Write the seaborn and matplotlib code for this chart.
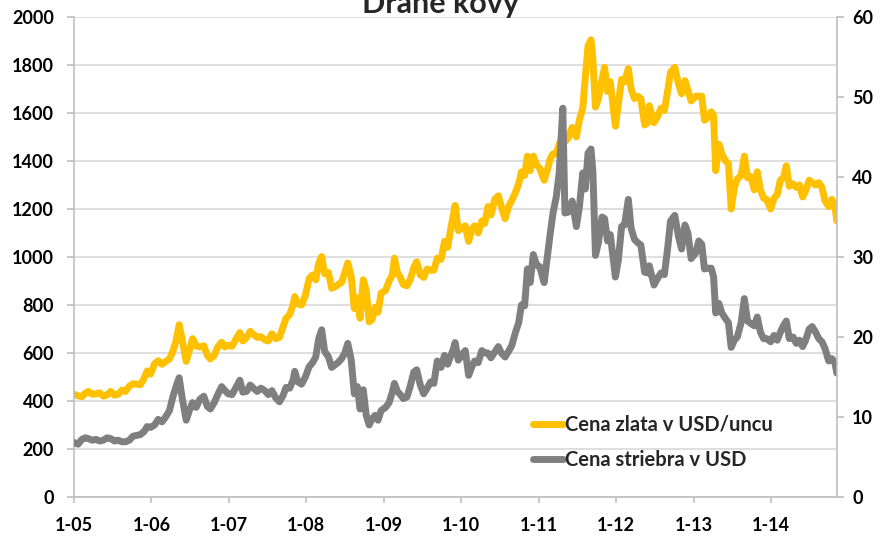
import matplotlib
matplotlib.use('Agg')
import matplotlib.pyplot as plt
import seaborn as sns
import pandas as pd

title = 'Drahé kovy'
gold_label = 'Cena zlata v USD/uncu'
silver_label = 'Cena striebra v USD'

dates = [
    '2005-01-03', '2005-01-20', '2005-02-07', '2005-02-24', '2005-03-10', '2005-03-28', '2005-04-14', '2005-05-02',
    '2005-05-19', '2005-06-06', '2005-06-23', '2005-07-11', '2005-07-28', '2005-08-15', '2005-09-01', '2005-09-19',
    '2005-10-06', '2005-10-24', '2005-11-10', '2005-11-28', '2005-12-12', '2005-12-28',
    '2006-01-16', '2006-02-02', '2006-02-20', '2006-03-09', '2006-03-27', '2006-04-13', '2006-04-27', '2006-05-12',
    '2006-05-26', '2006-06-14', '2006-06-29', '2006-07-14', '2006-07-31', '2006-08-17', '2006-09-05', '2006-09-22',
    '2006-10-06', '2006-10-24', '2006-11-10', '2006-11-28', '2006-12-14', '2006-12-29',
    '2007-01-16', '2007-02-02', '2007-02-22', '2007-03-08', '2007-03-26', '2007-04-12', '2007-04-27', '2007-05-15',
    '2007-06-01', '2007-06-20', '2007-07-06', '2007-07-23', '2007-08-10', '2007-08-28', '2007-09-14', '2007-09-28',
    '2007-10-15', '2007-10-31', '2007-11-08', '2007-11-22', '2007-12-10', '2007-12-28',
    '2008-01-15', '2008-01-31', '2008-02-15', '2008-02-29', '2008-03-14', '2008-03-28', '2008-04-15', '2008-04-30',
    '2008-05-15', '2008-05-30', '2008-06-16', '2008-07-01', '2008-07-15', '2008-07-31', '2008-08-15', '2008-08-29',
    '2008-09-11', '2008-09-26', '2008-10-10', '2008-10-24', '2008-11-07', '2008-11-21', '2008-12-05', '2008-12-19',
    '2009-01-09', '2009-01-26', '2009-02-10', '2009-02-20', '2009-03-06', '2009-03-20', '2009-04-03', '2009-04-20',
    '2009-05-05', '2009-05-22', '2009-06-05', '2009-06-22', '2009-07-08', '2009-07-24', '2009-08-10', '2009-08-25',
    '2009-09-10', '2009-09-28', '2009-10-14', '2009-10-29', '2009-11-12', '2009-11-26', '2009-12-03', '2009-12-18',
    '2010-01-05', '2010-01-20', '2010-02-05', '2010-02-19', '2010-03-05', '2010-03-22', '2010-04-08', '2010-04-22',
    '2010-05-07', '2010-05-21', '2010-06-08', '2010-06-25', '2010-07-09', '2010-07-27', '2010-08-12', '2010-08-27',
    '2010-09-14', '2010-09-29', '2010-10-12', '2010-10-27', '2010-11-09', '2010-11-22', '2010-12-07', '2010-12-22',
    '2011-01-06', '2011-01-27', '2011-02-10', '2011-02-25', '2011-03-10', '2011-03-25', '2011-04-08', '2011-04-25',
    '2011-05-05', '2011-05-20', '2011-06-08', '2011-06-28', '2011-07-12', '2011-07-28', '2011-08-09', '2011-08-22',
    '2011-09-05', '2011-09-14', '2011-09-26', '2011-10-10', '2011-10-27', '2011-11-08', '2011-11-22', '2011-12-05',
    '2011-12-29',
    '2012-01-12', '2012-01-27', '2012-02-10', '2012-02-28', '2012-03-12', '2012-03-28', '2012-04-12', '2012-04-27',
    '2012-05-15', '2012-05-31', '2012-06-06', '2012-06-28', '2012-07-12', '2012-07-31', '2012-08-16', '2012-08-31',
    '2012-09-14', '2012-10-04', '2012-10-22', '2012-11-05', '2012-11-21', '2012-12-05', '2012-12-20',
    '2013-01-11', '2013-01-25', '2013-02-08', '2013-02-21', '2013-03-08', '2013-03-25', '2013-04-05', '2013-04-15',
    '2013-04-30', '2013-05-14', '2013-05-31', '2013-06-14', '2013-06-27', '2013-07-12', '2013-07-26', '2013-08-13',
    '2013-08-28', '2013-09-12', '2013-09-27', '2013-10-14', '2013-10-28', '2013-11-12', '2013-11-27', '2013-12-12',
    '2013-12-30',
    '2014-01-15', '2014-01-30', '2014-02-14', '2014-02-28', '2014-03-14', '2014-03-28', '2014-04-15', '2014-04-30',
    '2014-05-15', '2014-05-30', '2014-06-13', '2014-06-30', '2014-07-14', '2014-07-30', '2014-08-14', '2014-08-29',
    '2014-09-12', '2014-09-30', '2014-10-15', '2014-10-29', '2014-11-07',
]

gold = [
    428, 422, 418, 433, 440, 428, 430, 434, 420, 425, 440, 424, 428, 445, 440, 462, 472, 470, 468, 495, 525, 512,
    555, 568, 553, 565, 575, 610, 650, 718, 655, 565, 610, 660, 630, 625, 630, 590, 575, 590, 625, 645, 625, 632,
    628, 655, 685, 650, 665, 690, 678, 665, 668, 655, 650, 680, 660, 665, 710, 745, 760, 800, 835, 805, 800, 840,
    910, 925, 905, 975, 1002, 930, 935, 870, 875, 885, 895, 935, 975, 920, 785, 830, 745, 905, 860, 730, 740, 790,
    770, 850,
    860, 900, 925, 995, 935, 915, 885, 880, 905, 955, 980, 925, 915, 950, 945, 945, 995, 990, 1065, 1040, 1115,
    1180, 1215, 1110,
    1120, 1130, 1065, 1115, 1130, 1100, 1150, 1140, 1210, 1175, 1240, 1255, 1210, 1160, 1210, 1235, 1270, 1305,
    1355, 1340, 1420, 1360, 1420, 1385,
    1370, 1320, 1360, 1410, 1430, 1430, 1470, 1510, 1480, 1495, 1540, 1500, 1570, 1620, 1750, 1880, 1905, 1820,
    1625, 1660, 1740, 1790, 1690, 1730, 1545,
    1640, 1740, 1730, 1785, 1700, 1660, 1670, 1660, 1550, 1560, 1630, 1560, 1580, 1620, 1610, 1690, 1770, 1790,
    1720, 1680, 1735, 1695, 1650,
    1670, 1670, 1670, 1570, 1580, 1605, 1590, 1360, 1470, 1430, 1400, 1390, 1200, 1290, 1325, 1340, 1420, 1330,
    1335, 1280, 1355, 1280, 1245, 1240, 1200,
    1245, 1260, 1320, 1330, 1380, 1295, 1305, 1290, 1300, 1250, 1275, 1320, 1310, 1300, 1310, 1290, 1235, 1210,
    1240, 1215, 1150,
]

silver = [
    6.8, 6.6, 7.2, 7.4, 7.3, 7.1, 7.2, 7.0, 7.1, 7.4, 7.3, 7.0, 7.1, 6.9, 6.9, 7.1, 7.6, 7.7, 7.8, 8.2, 8.8, 8.7,
    9.0, 9.7, 9.4, 10.0, 10.8, 12.6, 13.8, 14.9, 12.4, 9.6, 10.8, 11.8, 11.2, 12.2, 12.6, 11.3, 11.0, 11.8, 12.8,
    13.8, 13.3, 12.9,
    12.8, 13.6, 14.6, 13.1, 13.2, 14.0, 13.6, 13.2, 13.6, 13.3, 12.8, 13.3, 12.4, 11.9, 12.7, 13.7, 13.6, 14.6,
    15.7, 14.4, 14.1, 15.0,
    16.3, 16.8, 17.5, 19.8, 20.9, 18.2, 17.5, 16.2, 16.5, 16.8, 17.3, 18.0, 19.2, 17.2, 12.9, 13.8, 11.0, 13.4,
    10.2, 9.0, 9.8, 10.2, 9.6, 10.8,
    11.2, 11.8, 13.1, 14.2, 13.2, 12.8, 12.3, 12.5, 13.8, 15.6, 15.9, 14.0, 12.9, 13.6, 14.4, 14.2, 17.0, 16.2,
    17.7, 16.6, 17.6, 18.6, 19.3, 17.1,
    17.8, 18.3, 15.2, 16.2, 17.0, 16.8, 18.3, 18.0, 18.0, 17.4, 18.1, 18.8, 18.0, 17.5, 18.2, 18.9, 20.6, 21.8,
    24.0, 23.9, 28.5, 26.8, 30.3, 29.0,
    28.8, 26.8, 29.8, 33.0, 35.5, 37.5, 40.5, 48.6, 35.5, 35.6, 37.0, 33.8, 36.2, 40.5, 38.5, 43.0, 43.5, 40.6,
    30.2, 31.8, 35.0, 34.8, 32.0, 32.8, 27.5,
    29.6, 33.8, 34.0, 37.2, 33.6, 32.2, 31.8, 31.5, 28.1, 28.0, 28.9, 26.5, 27.2, 28.0, 27.8, 31.0, 34.5, 35.2,
    32.5, 31.0, 34.0, 33.0, 29.8,
    30.5, 32.0, 31.6, 28.5, 28.6, 28.6, 27.5, 23.0, 24.2, 23.0, 22.3, 21.8, 18.7, 19.6, 20.0, 21.8, 24.8, 22.0,
    21.7, 21.4, 22.5, 20.6, 19.8, 19.8, 19.4,
    20.2, 19.6, 20.6, 21.4, 22.0, 19.8, 20.0, 19.2, 19.6, 18.8, 19.6, 21.0, 21.3, 20.6, 19.8, 19.4, 18.6, 17.0,
    17.3, 16.8, 15.5,
]

xtick_dates = ['2005-01-01', '2006-01-01', '2007-01-01', '2008-01-01', '2009-01-01',
               '2010-01-01', '2011-01-01', '2012-01-01', '2013-01-01', '2014-01-01']
xtick_labels = ['1-05', '1-06', '1-07', '1-08', '1-09', '1-10', '1-11', '1-12', '1-13', '1-14']
left_ticks = [0, 200, 400, 600, 800, 1000, 1200, 1400, 1600, 1800, 2000]
right_ticks = [0, 10, 20, 30, 40, 50, 60]

GOLD_C = '#FFC000'
SILVER_C = '#7F7F7F'
GRID_C = '#D9D9D9'
SPINE_C = '#BFBFBF'

sns.set_style('white')
plt.rcParams['font.family'] = ['Lato', 'DejaVu Sans']
plt.rcParams['font.weight'] = 'bold'

W, H = 882, 540
fig = plt.figure(figsize=(W / 100, H / 100), dpi=100)
ax = fig.add_axes([74 / W, 43 / H, (837 - 74) / W, (497 - 17) / H])
ax2 = ax.twinx()

df = pd.DataFrame({'date': pd.to_datetime(dates), 'gold': gold, 'silver': silver})

sns.lineplot(data=df, x='date', y='gold', ax=ax, color=GOLD_C, linewidth=5.0,
             legend=False, solid_joinstyle='round', solid_capstyle='round')
sns.lineplot(data=df, x='date', y='silver', ax=ax2, color=SILVER_C, linewidth=5.0,
             legend=False, solid_joinstyle='round', solid_capstyle='round')

ax.set_xlim(pd.Timestamp('2005-01-01'), pd.Timestamp('2014-11-08'))
ax.set_ylim(0, 2000)
ax2.set_ylim(0, 60)
ax.set_yticks(left_ticks)
ax2.set_yticks(right_ticks)
ax.set_xticks(pd.to_datetime(xtick_dates))
ax.set_xticklabels(xtick_labels)

for a in (ax, ax2):
    a.set_xlabel('')
    a.set_ylabel('')

ax.yaxis.grid(True, color=GRID_C, linewidth=1.2)
ax.xaxis.grid(False)
ax.set_axisbelow(True)

for s in ['top', 'right']:
    ax.spines[s].set_visible(False)
for s in ['left', 'bottom']:
    ax.spines[s].set_color(SPINE_C)
    ax.spines[s].set_linewidth(1.2)
for s in ['top', 'left', 'bottom']:
    ax2.spines[s].set_visible(False)
ax2.spines['right'].set_color(SPINE_C)
ax2.spines['right'].set_linewidth(1.2)

ax.tick_params(axis='y', which='major', left=True, length=5, width=1.2, color=SPINE_C,
               labelsize=13, pad=9.5, labelcolor='black')
ax.tick_params(axis='x', which='major', bottom=True, length=4.5, width=1.2, color=SPINE_C,
               labelsize=13, pad=10, labelcolor='black')
ax2.tick_params(axis='y', which='major', right=True, length=5, width=1.2, color=SPINE_C,
                labelsize=13, pad=6, labelcolor='black')
for lbl in ax.get_xticklabels() + ax.get_yticklabels() + ax2.get_yticklabels():
    lbl.set_fontweight('bold')

fig.text(0.5, 1 - 13 / H, title, ha='center', va='baseline', fontsize=22, fontweight='bold')

handles = [ax.get_lines()[0], ax2.get_lines()[0]]
fig.legend(handles, [gold_label, silver_label], loc='center left',
           bbox_to_anchor=(533 / W, 1 - 442.5 / H), bbox_transform=fig.transFigure,
           frameon=False, handlelength=1.5, handletextpad=0.1,
           labelspacing=0.75, borderpad=0, borderaxespad=0,
           prop={'weight': 'bold', 'size': 14.5})

fig.savefig('out.png', dpi=100)
